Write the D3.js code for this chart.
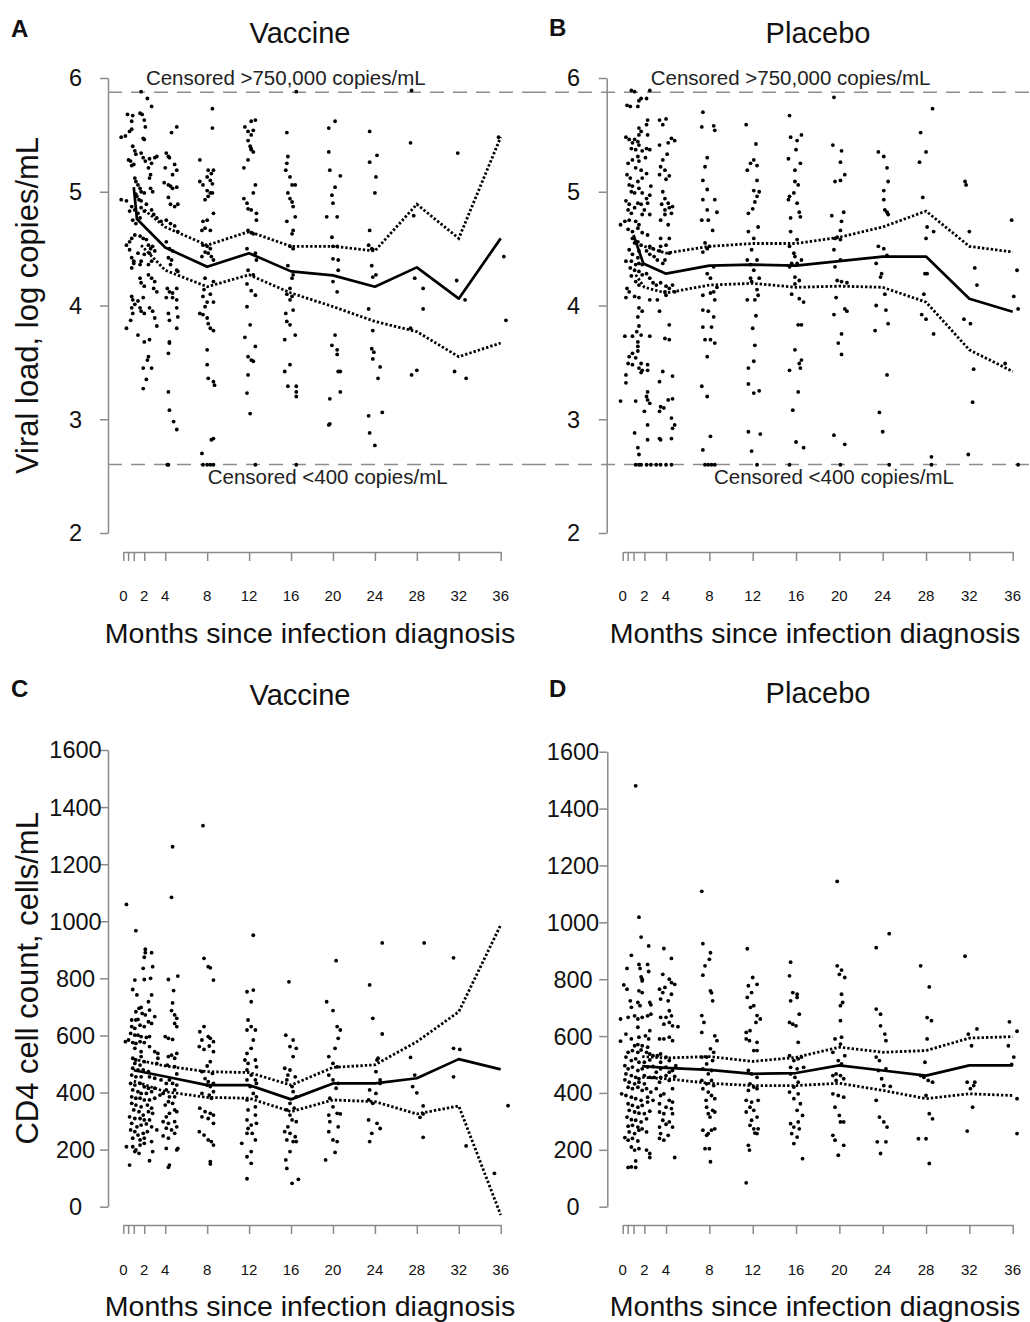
<!DOCTYPE html>
<html>
<head>
<meta charset="utf-8">
<script src="https://cdn.jsdelivr.net/npm/d3@7"></script>
<style>
  html, body { margin: 0; padding: 0; background: #fff; }
  svg { display: block; font-family: "Liberation Sans", Arial, Helvetica, sans-serif; }
</style>
</head>
<body>
<svg id="chart" width="1030" height="1322"></svg>
<script>
// ---------- axis ticks ----------
const monthTicks = [0, 0.46, 1, 2, 4, 8, 12, 16, 20, 24, 28, 32, 36];
const monthLabels = [0, 2, 4, 8, 12, 16, 20, 24, 28, 32, 36];
const viralTicks = [2, 3, 4, 5, 6];
const cd4Ticks = [0, 200, 400, 600, 800, 1000, 1200, 1400, 1600];

// censoring limits of the viral load assay (copies/mL)
const upperLimitCopies = 750000;
const lowerLimitCopies = 400;

// ---------- viral load, vaccine arm: [months, log10 copies/mL] ----------
const viralVaccinePoints = [
  [1.7,5.88],[2.3,5.82],[2.7,5.75],[0.4,5.68],[0.8,5.62],[0.9,5.67],[1.6,5.69],[1.8,5.68],[2.0,5.63],[0.2,5.49],[0.6,5.53],[0.8,5.55],[2.1,5.57],[1.9,5.47],[2.0,5.46],[4.6,5.52],[5.1,5.57],
  [0.9,5.40],[1.1,5.36],[1.2,5.33],[0.5,5.28],[0.7,5.27],[0.8,5.23],[1.0,5.24],
  [1.7,5.34],[1.9,5.30],[2.1,5.27],[2.5,5.29],[2.7,5.25],[3.0,5.30],[3.2,5.31],
  [4.1,5.34],[4.3,5.31],[4.4,5.30],[4.0,5.21],[4.9,5.24],[5.1,5.19],[4.7,5.15],
  [2.4,5.21],[2.6,5.15],[2.5,5.12],
  [1.1,5.12],[1.2,5.09],[1.4,5.06],[1.6,5.03],[1.7,5.00],[1.2,4.98],[1.3,4.96],[1.5,4.93],[1.7,4.92],[2.0,4.99],
  [3.9,5.08],[4.3,5.06],[4.5,5.05],[4.7,5.03],[5.1,5.04],
  [2.8,5.00],[2.6,5.03],[0.3,4.92],[-0.2,4.93],[-0.2,5.48],
  [4.3,4.95],[4.5,4.89],[4.9,4.87],[5.2,4.89],
  [0.8,4.87],[1.1,4.84],[1.4,4.81],[1.7,4.86],[2.0,4.83],[2.2,4.89],
  [0.6,4.83],[0.9,4.75],[1.2,4.72],[1.6,4.77],
  [2.7,4.84],[2.9,4.80],[3.2,4.77],
  [3.6,4.74],[4.1,4.75],[4.5,4.72],[4.9,4.70],[5.2,4.65],
  [0.3,4.53],[0.6,4.56],[0.8,4.59],[1.1,4.62],[1.6,4.61],[1.9,4.59],[2.2,4.58],
  [2.4,4.53],[2.6,4.50],[2.8,4.52],[3.0,4.48],[2.5,4.46],
  [0.6,4.49],[0.8,4.42],[1.0,4.39],[1.4,4.46],[1.7,4.39],[2.0,4.45],
  [4.1,4.56],[4.4,4.50],[4.7,4.48],[4.3,4.42],[4.6,4.40],[4.5,4.36],[5.1,4.31],[5.2,4.30],
  [0.8,4.33],[1.0,4.37],[1.6,4.36],[2.7,4.39],[2.4,4.36],
  [1.6,4.24],[1.7,4.20],[2.0,4.17],[2.4,4.27],[2.7,4.24],[3.0,4.21],[2.9,4.15],[3.2,4.12],
  [4.2,4.15],[4.4,4.12],[4.7,4.11],[5.1,4.15],[4.1,4.07],[4.7,4.07],[5.1,4.05],
  [0.8,4.08],[0.9,4.05],[1.1,4.01],[0.8,3.98],[0.9,3.93],
  [1.4,4.04],[1.6,3.98],[1.9,4.07],[1.7,3.95],[2.0,3.93],
  [2.5,3.98],[2.8,3.95],[3.0,3.89],[3.2,3.82],
  [4.3,3.93],[4.4,3.87],[5.1,3.98],[5.2,3.90],[5.1,3.80],
  [0.7,3.87],[0.3,3.80],[1.4,3.74],[2.0,3.68],[2.5,3.70],[4.4,3.68],[4.4,3.67],
  [2.4,3.55],[2.3,3.52],[1.9,3.45],[2.7,3.45],[2.2,3.35],[1.9,3.27],
  [4.3,3.58],
  [4.3,3.24],[4.4,3.08],[4.8,2.98],[5.1,2.91],
  [4.2,2.60],[4.3,2.60],
  // month 8
  [8.5,5.73],[8.5,5.56],[7.3,5.28],[8.1,5.19],[8.4,5.16],[8.6,5.19],[8.0,5.13],[8.3,5.10],[8.5,5.07],[7.3,5.09],[7.6,5.06],[8.0,5.01],[8.3,4.99],[8.1,4.96],[7.8,4.93],[8.5,4.99],[8.6,4.81],[7.6,4.74],[8.0,4.75],[7.8,4.68],[8.3,4.66],[7.5,4.66],[7.6,4.53],[8.0,4.52],[8.3,4.50],[7.8,4.47],[8.1,4.46],[8.4,4.43],[7.5,4.43],[8.6,4.40],
  [7.8,4.24],[8.6,4.21],[7.7,4.14],[7.6,4.08],[8.0,4.03],[7.8,3.99],[8.3,4.10],[8.6,4.03],[7.3,3.93],[7.6,3.92],[8.0,3.89],[8.1,3.84],[8.3,3.80],[8.6,3.78],[8.0,3.61],[8.0,3.48],[8.1,3.36],[8.6,3.33],[8.7,3.30],[8.6,2.83],[8.4,2.82],[7.5,2.70],[7.6,2.60],[8.0,2.60],[8.3,2.60],[8.6,2.60],
  // month 12
  [12.2,5.62],[12.6,5.63],[11.6,5.57],[11.9,5.53],[12.2,5.50],[12.4,5.54],[11.9,5.45],[12.1,5.40],[12.2,5.37],[12.4,5.35],[12.2,5.38],[11.5,5.21],[11.9,5.28],[12.6,5.06],[12.4,4.99],[11.5,4.94],[11.8,4.90],[11.9,4.85],[12.2,4.84],[12.7,4.81],[12.7,4.75],[11.9,4.66],[12.2,4.64],[12.4,4.63],[11.8,4.50],[12.6,4.46],[12.7,4.40],
  [11.9,4.31],[12.4,4.27],[11.8,4.19],[12.2,4.13],[12.6,4.09],[11.8,3.99],[12.1,3.83],[11.6,3.72],[12.6,3.64],[11.9,3.55],[12.2,3.52],[12.4,3.51],[11.9,3.39],[11.8,3.23],[12.1,3.05],[12.6,2.60],
  // month 16
  [15.6,5.52],[15.7,5.31],[15.6,5.25],[15.5,5.19],[15.9,5.13],[16.1,5.06],[16.4,5.06],[15.7,4.99],[15.9,4.94],[16.1,4.91],[16.2,4.87],[16.4,4.78],[15.6,4.74],[16.2,4.66],[16.1,4.63],[15.9,4.52],[16.2,4.50],
  [15.7,4.35],[16.2,4.27],[16.1,4.24],[15.9,4.15],[15.6,4.10],[16.1,4.08],[15.9,4.05],[16.2,3.96],[15.5,3.93],[15.6,3.86],[15.9,3.83],[15.4,3.70],[16.4,3.74],[15.9,3.48],[15.4,3.42],[15.7,3.29],[16.5,3.29],[16.5,3.24],[16.5,3.20],[16.5,2.60],[16.5,5.88],
  // month 20
  [20.2,5.62],[19.6,5.56],[19.6,5.35],[19.7,5.19],[20.7,5.14],[20.2,5.04],[19.9,4.97],[20.0,4.90],[19.4,4.78],[20.4,4.78],[19.9,4.60],[20.0,4.52],[20.4,4.52],[20.0,4.41],[20.5,4.40],[20.5,4.31],[20.0,4.21],[20.4,4.12],[19.9,3.65],[20.2,3.74],[20.4,3.61],[20.4,3.57],[20.5,3.42],[20.7,3.42],[19.7,3.18],[20.7,3.24],[19.6,2.95],[19.7,2.96],
  // month 24
  [23.5,5.53],[24.2,5.32],[23.5,5.26],[24.1,5.13],[24.0,4.99],[23.5,4.66],[23.4,4.53],[23.7,4.50],[23.8,4.49],[23.7,4.35],[24.1,4.27],[23.8,4.25],[23.4,3.97],[23.8,3.78],[23.7,3.62],[23.9,3.59],[23.8,3.53],[24.5,3.46],[24.3,3.36],[24.7,3.06],[23.4,3.03],[23.5,2.88],[24.0,2.77],
  // month 28
  [27.4,5.43],[27.7,4.79],[27.8,4.24],[28.6,4.15],[28.6,3.97],[27.4,3.80],[27.5,3.39],[28.0,3.43],[27.5,5.89],
  // month 32
  [31.9,5.34],[31.8,4.22],[32.6,4.05],[31.6,3.42],[32.7,3.36],
  // month 36
  [35.8,5.48],[36.3,4.43],[36.5,3.87]
];
const viralVaccineMean  = [[1.0,5.04],[1.3,4.76],[4,4.51],[8,4.34],[12,4.46],[16,4.30],[20,4.265],[24,4.165],[28,4.335],[32,4.06],[36,4.59]];
const viralVaccineUpper = [[2.0,4.84],[4,4.69],[8,4.53],[12,4.65],[16,4.52],[20,4.52],[24,4.48],[28,4.89],[32,4.59],[36,5.48]];
const viralVaccineLower = [[1.7,4.53],[4,4.31],[8,4.165],[12,4.27],[16,4.11],[20,3.99],[24,3.86],[28,3.77],[32,3.55],[36,3.67]];

// ---------- viral load, placebo arm ----------
const viralPlaceboPoints = [
  [0.8,5.89],[1.1,5.88],[2.5,5.89],[2.2,5.82],[1.7,5.82],[1.5,5.80],
  [0.4,5.76],[0.7,5.75],[1.4,5.75],
  [2.3,5.63],[3.4,5.63],[4.0,5.64],[2.2,5.59],[3.7,5.59],
  [1.5,5.56],[1.7,5.53],[1.5,5.50],[2.3,5.50],
  [0.3,5.48],[0.6,5.46],[0.9,5.43],[1.1,5.46],[1.4,5.44],[1.5,5.41],[0.8,5.38],
  [4.5,5.47],[4.8,5.45],[3.4,5.41],[4.2,5.43],
  [1.2,5.37],[1.8,5.36],[2.2,5.38],[2.5,5.37],[1.4,5.31],
  [4.1,5.33],[3.7,5.28],[3.5,5.22],[3.9,5.19],[4.3,5.14],[3.4,5.15],[4.0,5.11],
  [0.5,5.25],[0.9,5.28],[1.5,5.27],[2.1,5.30],[1.2,5.21],[1.7,5.19],
  [0.4,5.15],[0.7,5.12],[0.6,5.06],[0.9,5.05],[1.4,5.09],[1.8,5.12],[2.2,5.16],[1.5,5.03],[1.1,4.99],[0.8,5.00],
  [2.6,5.05],[2.5,4.97],[2.2,4.94],[1.8,4.99],
  [3.7,5.00],[3.9,4.94],[4.2,4.90],[3.6,4.89],[3.9,4.84],[4.3,4.86],[4.6,4.87],[3.9,4.80],[4.5,4.81],[3.5,4.75],[4.2,4.71],
  [0.3,4.92],[0.6,4.89],[0.5,4.84],[0.8,4.81],[1.1,4.86],[1.4,4.90],[1.7,4.89],[2.0,4.84],[2.3,4.90],[2.5,4.80],[1.8,4.80],
  [-0.2,4.71],[0.2,4.74],[0.6,4.75],[1.2,4.74],[1.5,4.71],[0.5,4.67],[0.9,4.65],[1.4,4.68],[1.8,4.64],[2.3,4.62],
  [0.9,4.59],[1.1,4.55],[1.4,4.56],[1.7,4.53],[1.5,4.48],[2.5,4.52],[2.8,4.50],[2.2,4.48],[3.5,4.59],[4.3,4.59],[4.0,4.53],[3.5,4.52],[4.3,4.46],[3.4,4.48],
  [0.6,4.49],[0.9,4.45],[1.4,4.42],[0.3,4.39],[0.8,4.39],[1.2,4.36],[1.5,4.37],[1.8,4.36],[2.5,4.45],[2.9,4.43],[3.2,4.40],[3.9,4.40],[3.7,4.37],
  [0.7,4.33],[1.1,4.31],[1.5,4.30],[1.8,4.27],[2.2,4.28],[2.5,4.24],[0.8,4.26],[1.2,4.21],[1.5,4.18],[2.8,4.20],[3.1,4.18],[3.5,4.20],[4.0,4.17],[3.9,4.12],[4.3,4.15],[4.6,4.18],[4.8,4.12],[4.0,4.09],
  [0.4,4.15],[0.6,4.12],[1.1,4.08],[0.3,4.07],[1.5,4.07],[2.5,4.05],[3.2,4.05],
  [1.5,3.98],[1.8,3.95],[1.4,3.90],[3.4,3.95],[4.3,3.83],[1.5,3.82],[1.3,3.77],[1.7,3.74],[0.9,3.73],[0.2,3.73],[2.5,3.73],[3.9,3.71],[4.3,3.70],
  [1.4,3.68],[1.4,3.64],[1.4,3.60],[0.9,3.58],[0.6,3.55],[1.2,3.54],[0.5,3.49],[0.9,3.48],[1.7,3.49],[2.3,3.48],[1.5,3.45],[1.8,3.43],[2.3,3.43],[3.7,3.42],[1.7,3.41],[0.3,3.39],[3.4,3.33],[4.6,3.38],[0.3,3.32],
  [2.3,3.24],[2.2,3.20],[2.3,3.17],[2.5,3.14],[-0.2,3.16],[1.2,3.16],[4.2,3.17],[4.6,3.18],[3.5,3.11],[3.8,3.10],
  [2.0,3.07],[3.4,3.07],[4.5,3.01],[2.3,2.95],[4.8,2.95],[4.6,2.92],[1.1,2.88],[3.4,2.83],[3.5,2.82],[2.3,2.82],[4.5,2.83],[1.4,2.75],[1.5,2.69],
  [1.2,2.60],[1.5,2.60],[1.7,2.60],[2.2,2.60],[2.6,2.60],[3.1,2.60],[3.5,2.60],[4.0,2.60],[4.5,2.60],
  // month 8
  [7.4,5.70],[7.3,5.57],[8.4,5.58],[8.5,5.54],[7.8,5.30],[7.6,5.22],[7.4,5.10],[7.8,5.02],[7.4,4.93],[7.8,4.84],[7.3,4.75],[7.9,4.75],[8.5,4.93],[8.7,4.82],[8.3,4.66],[7.6,4.55],[7.8,4.50],[7.4,4.47],[8.0,4.52],[8.4,4.34],[7.8,4.28],[8.1,4.24],
  [8.7,4.16],[7.4,4.09],[8.1,4.11],[8.4,4.12],[8.5,4.05],[7.4,3.96],[7.9,3.95],[8.4,3.90],[8.2,3.81],[7.4,3.81],[8.1,3.70],[7.6,3.70],[8.5,3.67],[7.8,3.55],[7.3,3.29],[7.8,3.20],[8.1,2.85],[7.4,2.73],[7.6,2.60],[7.9,2.60],[8.2,2.60],[8.5,2.60],
  // month 12
  [11.4,5.59],[12.3,5.42],[12.1,5.28],[11.8,5.25],[11.5,5.19],[12.4,5.23],[12.4,5.10],[12.1,5.01],[12.6,5.00],[12.4,4.96],[12.2,4.91],[12.0,4.85],[11.6,4.81],[12.5,4.69],[11.6,4.65],[12.1,4.59],[11.9,4.49],[11.5,4.40],[11.8,4.36],[12.4,4.40],[12.1,4.31],[11.8,4.24],[12.6,4.24],
  [11.9,4.21],[12.4,4.14],[12.5,4.09],[12.2,4.05],[11.5,4.05],[12.3,3.91],[12.0,3.80],[12.2,3.65],[12.1,3.51],[11.6,3.45],[11.6,3.31],[12.1,3.23],[12.6,3.25],[11.6,2.89],[12.7,2.87],[11.9,2.72],[12.4,2.60],
  // month 16
  [15.4,5.67],[15.5,5.48],[16.1,5.45],[16.5,5.50],[16.0,5.37],[15.3,5.29],[16.4,5.25],[15.9,5.19],[15.9,5.09],[16.2,5.06],[15.8,4.99],[15.4,4.96],[15.3,4.93],[16.1,4.90],[16.3,4.82],[15.5,4.77],[16.4,4.78],[15.5,4.65],[16.1,4.58],[15.4,4.52],[15.8,4.46],[15.9,4.43],[15.6,4.37],[16.1,4.37],[16.5,4.40],[15.4,4.34],[15.9,4.25],[16.3,4.22],
  [15.9,4.19],[15.6,4.10],[16.3,4.06],[16.7,4.03],[16.2,3.83],[16.5,3.83],[15.9,3.61],[16.5,3.52],[16.3,3.49],[16.4,3.45],[15.4,3.43],[16.2,3.24],[15.7,3.08],[16.0,2.80],[16.7,2.75],[15.4,2.60],
  // month 20
  [19.5,5.83],[19.4,5.41],[20.2,5.36],[20.1,5.26],[20.5,5.15],[20.1,5.10],[19.6,5.09],[19.3,4.79],[20.4,4.82],[20.2,4.74],[20.1,4.66],[19.8,4.60],[19.6,4.59],[20.1,4.58],[19.5,4.49],[20.1,4.40],[19.6,4.34],
  [19.8,4.22],[20.2,4.21],[20.7,4.20],[19.7,4.07],[20.5,3.97],[20.7,3.95],[19.5,3.92],[20.2,3.75],[19.9,3.67],[20.2,3.57],[19.5,2.86],[20.5,2.78],[20.1,2.60],
  // month 24
  [23.6,5.35],[24.1,5.31],[24.4,5.21],[24.5,5.09],[24.1,5.01],[24.1,4.93],[24.2,4.84],[24.4,4.82],[24.5,4.80],[23.6,4.52],[24.1,4.50],[24.4,4.44],[23.4,4.37],[23.9,4.28],[23.8,4.25],
  [24.2,4.10],[23.4,4.00],[24.3,3.96],[24.5,3.84],[23.3,3.78],[24.4,3.39],[23.7,3.06],[24.0,2.89],[24.6,2.60],
  // month 28
  [28.6,5.73],[27.5,5.52],[28.0,5.35],[27.4,5.26],[27.7,4.95],[28.1,4.69],[28.7,4.65],[28.0,4.59],[27.9,4.28],[28.1,4.28],
  [27.8,4.10],[27.6,3.92],[28.0,3.88],[28.7,3.75],[28.5,2.67],[28.5,2.60],
  // month 32
  [31.6,5.09],[31.7,5.06],[32.0,4.65],[32.5,4.33],[32.7,4.18],[31.5,3.88],[32.1,3.84],[32.4,3.44],[32.3,3.15],[31.9,2.69],
  // month 36
  [35.9,4.75],[36.4,4.31],[36.1,4.08],[36.5,3.97],[35.3,3.49],[36.5,2.60]
];
const viralPlaceboMean  = [[1.0,4.62],[1.9,4.37],[4,4.28],[8,4.35],[12,4.36],[16,4.35],[20,4.39],[24,4.43],[28,4.43],[32,4.06],[36,3.945]];
const viralPlaceboUpper = [[2.0,4.52],[4,4.46],[8,4.52],[12,4.545],[16,4.545],[20,4.60],[24,4.69],[28,4.83],[32,4.52],[36,4.47]];
const viralPlaceboLower = [[1.2,4.27],[2.0,4.16],[4,4.11],[8,4.18],[12,4.195],[16,4.16],[20,4.17],[24,4.16],[28,4.03],[32,3.61],[36,3.42]];

// ---------- CD4 count, vaccine arm: [months, cells/mL] ----------
const cd4VaccinePoints = [
  [0.3,1059],[4.7,1261],[4.6,1084],
  [1.2,967],[2.1,902],[2.1,890],[2.7,890],[2.0,874],[1.9,835],[2.8,841],[1.1,794],[2.0,796],[2.6,800],[4.3,796],[5.2,808],
  [0.9,761],[1.3,742],[2.7,742],[4.8,757],
  [2.4,718],[1.7,698],[1.5,695],[1.2,683],[1.8,677],[2.1,672],[2.5,689],[3.0,666],[4.7,714],[4.6,687],[4.9,672],
  [0.8,654],[1.2,654],[1.4,656],[0.8,631],[1.1,625],[1.6,636],[2.0,631],[2.4,648],[2.7,642],[5.1,660],[4.9,642],[5.1,631],
  [0.7,607],[1.1,601],[1.4,601],[1.7,596],[2.2,593],[2.5,596],[0.5,584],[0.2,578],[0.9,575],[1.2,572],[1.6,578],[2.0,575],
  [4.0,596],[4.3,590],[4.7,586],
  [2.5,561],[3.0,543],[1.1,555],[1.7,543],[0.9,520],[1.2,514],[1.7,526],[2.0,508],[1.6,496],[1.1,502],[3.3,537],[3.3,520],[3.2,502],
  [4.3,526],[4.6,531],[4.9,520],[5.1,537],[4.2,496],[4.9,491],[5.1,465],
  [0.9,485],[1.4,479],[1.9,479],[2.4,473],[0.8,461],[1.2,455],[1.7,455],[2.5,455],[3.0,450],[3.6,444],[4.1,432],
  [4.4,444],[4.7,432],[5.1,426],[4.9,409],[4.1,409],
  [0.7,432],[1.1,426],[1.6,432],[2.0,420],[2.4,415],[0.9,409],[1.4,403],[1.7,397],[2.2,397],[2.7,403],[3.0,415],
  [0.8,385],[1.2,380],[1.6,380],[2.0,374],[2.5,374],[3.0,380],[3.5,391],[3.8,397],[4.4,385],[4.9,385],
  [0.8,362],[1.2,356],[1.7,350],[2.3,356],[2.7,345],[1.0,339],[1.5,333],[1.9,321],[2.4,333],[2.8,327],
  [4.3,368],[4.7,362],[4.0,356],[4.9,339],[4.4,327],[4.1,315],[5.1,333],
  [0.6,315],[1.1,309],[1.6,309],[2.0,304],[2.5,304],[0.8,292],[1.3,280],[1.7,286],[2.2,290],[2.7,280],[3.2,269],
  [3.8,298],[4.3,292],[4.9,298],[5.1,280],[4.1,275],[4.6,269],[4.9,257],[3.8,248],[4.3,240],
  [0.7,269],[1.1,263],[1.4,251],[1.9,257],[2.3,263],[0.9,240],[1.6,234],[2.0,240],[2.7,228],
  [0.3,210],[0.9,210],[1.2,199],[1.6,216],[2.0,222],
  [1.1,193],[1.5,187],[2.8,193],[4.1,204],[5.2,204],[5.1,199],
  [0.6,146],[2.5,161],[4.4,146],[4.3,138],
  // month 8
  [7.6,1335],[7.7,870],[8.1,841],[8.3,837],[8.6,794],
  [7.3,613],[7.7,631],[8.1,596],[8.3,590],[7.5,584],[8.6,578],[7.25,561],[7.7,551],[8.2,563],[8.6,543],
  [8.3,508],[8.0,493],[7.5,473],[8.5,467],[7.8,449],[8.1,438],[8.6,432],[8.3,421],[8.0,426],[8.6,403],[7.5,397],[8.2,391],[8.4,380],
  [7.3,345],[7.8,333],[8.3,327],[8.6,321],[7.5,315],[8.1,309],[8.6,292],
  [7.25,263],[7.7,251],[8.1,234],[8.4,228],[8.6,216],[8.3,158],[8.3,150],
  // month 12
  [12.4,951],[11.8,753],[12.4,759],[12.2,718],[11.9,654],[12.2,631],[11.8,619],[12.6,619],[12.4,584],[12.2,555],[11.8,537],
  [11.6,514],[11.9,502],[12.6,514],[12.7,490],[11.8,479],[12.2,461],[11.8,444],[12.6,444],[12.7,432],[12.1,421],
  [12.4,397],[11.8,374],[12.7,385],[12.6,350],[11.9,339],[12.6,321],[11.8,304],[12.2,286],[12.7,292],[11.9,274],[12.3,257],[11.8,257],[12.6,234],
  [11.3,222],[12.2,193],[11.8,175],[12.2,152],[11.8,98],
  // month 16
  [15.8,788],[15.5,601],[16.2,584],[15.9,561],[16.5,555],[16.2,526],[15.4,485],[15.9,479],[15.7,461],[15.6,444],[16.4,455],
  [16.1,421],[16.2,403],[16.5,385],[15.9,362],[15.6,339],[16.3,345],[15.9,321],[16.1,304],[16.5,298],[15.7,280],
  [15.4,263],[15.9,257],[16.4,245],[15.6,234],[16.2,228],[16.5,228],[15.9,193],[15.5,164],[15.6,134],[16.1,82],[16.7,96],
  // month 20
  [20.3,862],[19.4,718],[20.0,687],[20.4,631],[20.7,619],[20.5,590],[20.2,555],[19.6,526],[20.0,502],[20.4,490],[19.6,461],[20.0,444],[20.5,432],
  [20.3,415],[19.7,380],[20.0,350],[19.6,321],[20.4,327],[20.7,325],[19.7,298],[20.5,280],[19.6,263],[20.0,234],[20.4,228],[20.2,190],[19.3,164],
  // month 24
  [24.7,924],[23.5,777],[23.8,660],[24.7,605],[24.3,520],[24.2,514],[24.1,473],[24.5,444],[24.5,432],[23.5,409],[24.1,397],[23.4,374],[23.8,362],[23.4,304],[24.2,292],[24.5,274],[23.7,257],[23.5,228],
  // month 28
  [28.7,924],[27.4,523],[27.8,461],[27.6,421],[28.0,399],[28.6,353],[28.6,325],[28.3,313],[28.6,243],
  // month 32
  [31.5,872],[31.5,555],[32.1,551],[31.5,455],[32.7,213],
  // month 36
  [35.4,117],[36.7,354]
];
const cd4VaccineMean  = [[1.0,478],[4,456],[8,426],[12,426],[16,376],[20,432],[24,432],[28,450],[32,517],[36,481]];
const cd4VaccineUpper = [[1.0,517],[4,493],[8,473],[12,470],[16,426],[20,488],[24,497],[28,578],[32,683],[36,987]];
const cd4VaccineLower = [[1.0,440],[4,403],[8,383],[12,380],[16,333],[20,374],[24,368],[28,325],[32,353],[36,-29]];

// ---------- CD4 count, placebo arm ----------
const cd4PlaceboPoints = [
  [1.2,1480],[1.5,1018],
  [1.7,948],[2.4,917],[3.8,908],[4.5,873],[0.8,884],
  [0.4,838],[1.5,852],[2.3,852],[1.6,838],[2.4,827],[1.7,808],[1.8,800],[1.8,794],
  [3.7,817],[4.3,800],[4.5,788],[4.8,782],[0.1,780],[0.4,765],[1.5,759],[1.8,753],[3.4,765],[3.9,771],[3.7,753],[4.5,747],
  [0.7,724],[0.8,701],[1.4,718],[1.6,707],[2.5,718],[2.6,710],[3.5,730],[4.2,724],[4.3,689],[-0.2,660],[0.5,666],[1.1,671],[1.4,660],[1.8,666],[2.3,671],[2.6,677],[1.4,631],[3.5,666],[4.0,666],[3.8,642],[4.3,648],[4.6,636],[4.5,671],[5.1,633],
  [0.3,607],[2.5,619],[0.8,590],[1.5,596],[2.1,601],[-0.2,582],[1.1,566],[1.4,570],[1.8,566],[2.3,561],[2.4,590],[3.4,590],[3.8,590],[4.3,596],[4.6,584],
  [0.5,543],[0.9,549],[1.4,543],[1.7,551],[2.2,543],[2.5,537],[2.8,531],[3.2,531],[3.5,537],[4.0,526],[4.3,514],[0.3,526],[0.8,514],[1.2,520],[1.5,508],[2.0,508],[2.5,516],[3.5,508],
  [0.2,496],[0.5,485],[0.9,491],[1.4,479],[1.8,485],[2.3,491],[2.8,493],[3.1,473],[3.5,485],[4.0,491],[4.3,473],[4.6,479],[4.9,496],
  [0.3,467],[0.8,461],[1.2,455],[1.5,450],[2.0,461],[2.5,455],[2.9,455],[3.5,455],[4.0,461],[4.8,458],[0.2,446],[0.6,438],[1.1,432],[1.5,438],[2.0,432],[3.4,438],[4.3,444],
  [0.5,420],[0.9,415],[1.4,420],[1.8,409],[2.2,415],[2.6,403],[3.1,415],[4.6,415],[-0.1,397],[0.3,391],[0.8,385],[1.2,380],[1.7,374],[2.3,385],[2.8,374],[3.5,391],[3.8,397],[4.3,374],[4.6,368],
  [0.5,362],[0.9,356],[1.4,350],[1.8,356],[2.3,368],[3.4,362],[4.0,350],[4.5,345],[0.6,339],[1.1,333],[1.5,329],[2.0,327],[2.5,336],[3.4,333],[3.8,327],[4.6,327],
  [0.4,315],[0.8,306],[1.2,304],[1.7,298],[2.2,309],[3.7,304],[4.3,298],[0.5,283],[0.9,286],[1.4,280],[1.8,274],[3.4,280],[4.0,290],[4.6,280],
  [0.6,263],[1.1,257],[1.5,269],[2.2,263],[3.5,257],[4.2,251],[0.2,243],[0.5,234],[0.9,240],[1.4,231],[3.4,240],[3.8,234],
  [0.8,210],[1.1,199],[1.5,204],[2.2,199],[2.5,187],[2.5,173],[4.8,173],[1.2,161],[0.8,140],[0.5,138],[1.2,138],
  // month 8
  [7.3,1109],[7.4,925],[8.1,893],[8.0,870],[7.6,847],[7.4,814],
  [8.1,759],[8.2,752],[8.3,724],[7.3,672],[7.5,648],[7.3,613],[8.5,601],[8.7,584],[8.1,555],[8.4,543],[7.75,526],[7.3,526],[8.3,514],[7.75,502],
  [7.4,485],[7.9,467],[8.2,479],[7.3,444],[7.75,432],[8.2,444],[8.4,426],[7.4,415],[7.9,403],[8.2,391],[7.7,374],[8.5,380],
  [7.75,350],[8.3,339],[7.9,327],[8.5,333],[8.06,315],[7.4,269],[7.9,257],[8.2,269],[7.75,251],[8.5,274],[7.6,204],[8.0,204],[8.1,158],
  // month 12
  [11.5,907],[12.0,806],[11.6,777],[12.4,782],[11.9,753],[11.5,736],[12.1,707],[11.8,701],[12.4,672],[12.7,660],[12.3,648],[11.75,619],[11.4,613],[11.7,584],[12.4,578],[12.4,549],
  [11.4,590],[12.1,549],[11.6,479],[11.9,467],[12.4,455],[11.75,432],[12.1,421],[11.6,409],[12.4,415],[11.4,374],[11.9,368],[12.5,374],[11.75,350],[12.1,339],[11.4,333],[12.4,315],[11.9,304],[11.75,286],[12.1,274],[12.5,274],[12.2,259],[12.4,257],[11.6,216],[11.7,199],[11.4,84],
  // month 16
  [15.5,860],[15.4,812],[15.7,753],[16.1,747],[16.1,736],[15.5,724],[16.3,677],[15.4,648],[15.7,642],[16.0,636],[16.2,578],
  [15.4,531],[15.8,514],[16.2,520],[16.5,526],[15.5,490],[16.1,485],[16.7,490],[15.5,467],[15.9,455],[16.2,438],[15.8,421],[15.4,403],[16.2,397],[15.8,380],[16.4,362],[16.1,339],[16.6,321],[16.2,298],[15.5,292],[15.8,280],[16.3,274],[15.6,257],[16.1,245],[15.8,222],[16.6,169],
  // month 20
  [19.8,1144],[19.8,847],[20.2,832],[20.0,817],[20.5,806],
  [20.2,747],[20.3,718],[20.1,707],[20.1,654],[19.6,590],[20.2,596],[20.1,572],[20.5,531],[19.4,543],[19.9,514],[20.2,502],[19.7,467],[19.4,461],[20.1,461],[20.4,450],[19.7,444],[19.4,397],[19.9,391],[20.4,385],[19.6,350],[20.0,321],[20.4,298],[20.1,298],[19.4,251],[19.6,234],[20.4,216],[19.9,181],
  // month 24
  [23.4,911],[24.6,960],
  [23.4,695],[23.8,677],[23.8,636],[24.2,607],[24.3,584],[23.4,526],[23.7,514],[24.3,485],[23.6,479],[23.9,450],[24.1,426],[24.7,423],[23.4,374],[23.7,315],[24.1,298],[24.4,280],[23.5,228],[23.8,187],[24.3,228],
  // month 28
  [27.5,847],[28.3,773],[28.1,665],[28.5,654],[28.1,590],[27.9,508],[27.5,461],[27.8,455],[28.2,444],[28.6,438],[28.0,391],[28.3,327],[28.6,309],[27.3,239],[28.0,239],[28.3,152],
  // month 32
  [31.6,881],[31.9,607],[32.7,625],[32.2,566],[31.8,438],[32.4,426],[32.1,415],[32.5,438],[32.3,350],[31.8,266],
  // month 36
  [35.7,650],[36.4,617],[35.6,566],[36.1,526],[35.9,500],[36.4,380],[36.4,257]
];
const cd4PlaceboMean  = [[1.8,494],[4,488],[8,481],[12,467],[16,470],[20,497],[24,479],[28,461],[32,497],[36,497]];
const cd4PlaceboUpper = [[1.8,528],[4,523],[8,528],[12,511],[16,525],[20,561],[24,543],[28,549],[32,593],[36,598]];
const cd4PlaceboLower = [[1.8,455],[4,450],[8,434],[12,426],[16,426],[20,434],[24,409],[28,380],[32,397],[36,391]];

// ---------- layout of the four panels ----------
const panels = [
  { letter: "A", title: "Vaccine", titleX: 300, titleY: 43, letterX: 11, letterY: 37,
    points: viralVaccinePoints, mean: viralVaccineMean, upper: viralVaccineUpper, lower: viralVaccineLower,
    yDomain: [2, 6], yRange: [533, 78], yTicks: viralTicks, axisX: 108, tickLabelX: 75.5,
    xRange: [123.3, 500.7], xAxisY: 552, xLabelY: 601, xTitleY: 643, xTitleX: 310,
    yTitle: "Viral load, log copies/mL", yTitleX: 38,
    censor: true, censorX: [108, 532] },
  { letter: "B", title: "Placebo", titleX: 818, titleY: 43, letterX: 549, letterY: 36,
    points: viralPlaceboPoints, mean: viralPlaceboMean, upper: viralPlaceboUpper, lower: viralPlaceboLower,
    yDomain: [2, 6], yRange: [533, 78], yTicks: viralTicks, axisX: 606.7, tickLabelX: 573.5,
    xRange: [622.7, 1012.7], xAxisY: 552, xLabelY: 601, xTitleY: 643, xTitleX: 815,
    censor: true, censorX: [532, 1030] },
  { letter: "C", title: "Vaccine", titleX: 300, titleY: 705, letterX: 11, letterY: 697,
    points: cd4VaccinePoints, mean: cd4VaccineMean, upper: cd4VaccineUpper, lower: cd4VaccineLower,
    yDomain: [0, 1600], yRange: [1206.7, 750], yTicks: cd4Ticks, axisX: 108, tickLabelX: 75.5,
    xRange: [123.3, 500.7], xAxisY: 1225, xLabelY: 1275, xTitleY: 1316, xTitleX: 310,
    yTitle: "CD4 cell count, cells/mL", yTitleX: 38 },
  { letter: "D", title: "Placebo", titleX: 818, titleY: 703, letterX: 549, letterY: 697,
    points: cd4PlaceboPoints, mean: cd4PlaceboMean, upper: cd4PlaceboUpper, lower: cd4PlaceboLower,
    yDomain: [0, 1600], yRange: [1206.7, 751.7], yTicks: cd4Ticks, axisX: 607.3, tickLabelX: 573,
    xRange: [622.7, 1012.7], xAxisY: 1225, xLabelY: 1275, xTitleY: 1316, xTitleX: 815 }
];

const AXIS_GREY = "#8a8a8a";
const INK = "#111";
const svg = d3.select("#chart");
svg.append("rect").attr("width", 1030).attr("height", 1322).attr("fill", "#fff");

function drawPanel(p) {
  const g = svg.append("g");
  const x = d3.scaleLinear().domain([0, 36]).range(p.xRange);
  const y = d3.scaleLinear().domain(p.yDomain).range(p.yRange);

  // panel letter and title
  g.append("text").attr("x", p.letterX).attr("y", p.letterY)
    .attr("font-size", 24).attr("font-weight", "bold").attr("fill", INK).text(p.letter);
  g.append("text").attr("x", p.titleX).attr("y", p.titleY).attr("text-anchor", "middle")
    .attr("font-size", 29).attr("fill", INK).text(p.title);

  // y axis with ticks; labels are centred on a fixed column
  const yAxis = d3.axisLeft(y).tickValues(p.yTicks).tickSize(8).tickSizeOuter(0).tickFormat(() => "");
  const ya = g.append("g").attr("transform", `translate(${p.axisX},0)`).call(yAxis);
  ya.select(".domain").attr("stroke", AXIS_GREY).attr("stroke-width", 1.5);
  ya.selectAll(".tick line").attr("stroke", AXIS_GREY).attr("stroke-width", 1.5);
  g.selectAll(".ylab").data(p.yTicks).enter().append("text")
    .attr("x", p.tickLabelX).attr("y", d => y(d)).attr("dy", "0.36em")
    .attr("text-anchor", "middle").attr("font-size", 23.5).attr("fill", INK).text(d => d);

  // x axis, detached below the plotting region
  const xAxis = d3.axisBottom(x).tickValues(monthTicks).tickSize(9).tickSizeOuter(0).tickFormat(() => "");
  const xa = g.append("g").attr("transform", `translate(0,${p.xAxisY})`).call(xAxis);
  xa.select(".domain").attr("stroke", AXIS_GREY).attr("stroke-width", 1.5);
  xa.selectAll(".tick line").attr("stroke", AXIS_GREY).attr("stroke-width", 1.5);
  g.selectAll(".xlab").data(monthLabels).enter().append("text")
    .attr("x", d => x(d)).attr("y", p.xLabelY).attr("text-anchor", "middle")
    .attr("font-size", 15).attr("fill", INK).text(d => d);
  g.append("text").attr("x", p.xTitleX).attr("y", p.xTitleY).attr("text-anchor", "middle")
    .attr("font-size", 28.5).attr("fill", INK).text("Months since infection diagnosis");

  if (p.yTitle) {
    const cy = (p.yRange[0] + p.yRange[1]) / 2;
    g.append("text").attr("transform", `translate(${p.yTitleX},${cy}) rotate(-90)`)
      .attr("text-anchor", "middle").attr("font-size", 31).attr("fill", INK).text(p.yTitle);
  }

  // assay censoring limits
  if (p.censor) {
    const hi = Math.log10(upperLimitCopies), lo = Math.log10(lowerLimitCopies);
    [hi, lo].forEach(v => {
      g.append("line").attr("x1", p.censorX[0]).attr("x2", p.censorX[1])
        .attr("y1", y(v)).attr("y2", y(v))
        .attr("stroke", "#8c8c8c").attr("stroke-width", 1.4).attr("stroke-dasharray", "14,9");
    });
    g.append("text").attr("x", x(15.5)).attr("y", y(hi) - 7).attr("text-anchor", "middle")
      .attr("font-size", 20.5).attr("fill", "#222").text("Censored >750,000 copies/mL");
    g.append("text").attr("x", x(19.5)).attr("y", y(lo) + 19).attr("text-anchor", "middle")
      .attr("font-size", 20.5).attr("fill", "#222").text("Censored <400 copies/mL");
  }

  // individual measurements
  g.append("g").selectAll("circle").data(p.points).enter().append("circle")
    .attr("cx", d => x(d[0])).attr("cy", d => y(d[1])).attr("r", 1.9).attr("fill", "#000");

  // mean trajectory with its confidence band
  const line = d3.line().x(d => x(d[0])).y(d => y(d[1]));
  [p.upper, p.lower].forEach(s => {
    g.append("path").attr("d", line(s)).attr("fill", "none").attr("stroke", "#000")
      .attr("stroke-width", 2.8).attr("stroke-dasharray", "2.4,2");
  });
  g.append("path").attr("d", line(p.mean)).attr("fill", "none").attr("stroke", "#000")
    .attr("stroke-width", 2.7).attr("stroke-linejoin", "round");
}

panels.forEach(drawPanel);
</script>
</body>
</html>
